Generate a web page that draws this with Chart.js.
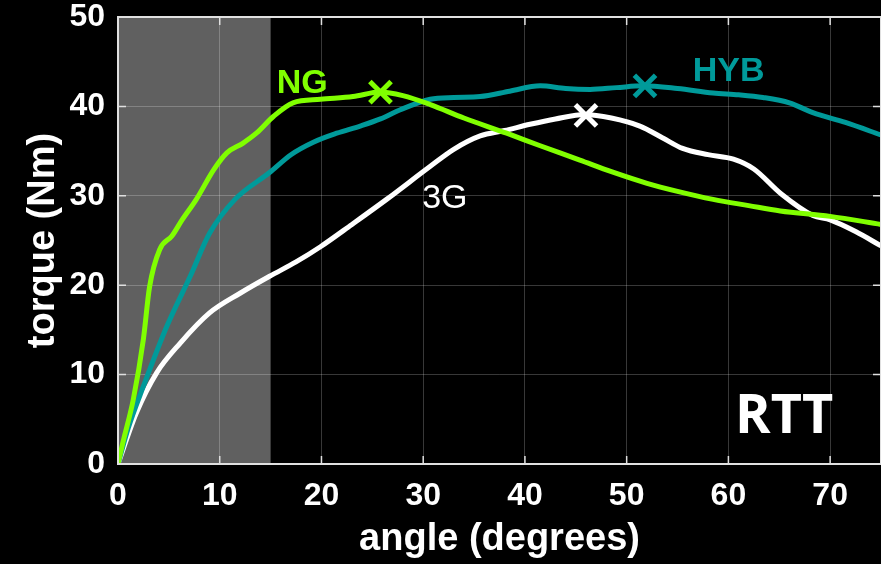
<!DOCTYPE html>
<html>
<head>
<meta charset="utf-8">
<script src="https://cdn.jsdelivr.net/npm/chart.js@4.4.0/dist/chart.umd.min.js"></script>
<style>
  html, body { margin: 0; padding: 0; background: #000; overflow: hidden; }
</style>
</head>
<body>
<canvas id="torqueChart" width="881" height="564"></canvas>
<script>
// NG curve
const ngAngle  = [0, 0.5, 1.5, 2.5, 3.1, 4.1, 5.3, 6.3, 7.7, 9.4, 10.7, 12.3, 13.6, 15.3, 17.2, 19.9, 23.1, 25.8, 28, 30.7, 34, 38.2, 41.5, 45.4, 48.5, 52, 55, 58.5, 62, 65.1, 70, 75];
const ngTorque = [0, 2.5, 7.2, 14, 19.8, 24, 25.5, 27.3, 29.6, 32.9, 34.8, 35.9, 37, 38.9, 40.4, 40.8, 41.1, 41.6, 41.2, 40.2, 38.7, 37.0, 35.6, 34.0, 32.7, 31.4, 30.5, 29.6, 28.9, 28.3, 27.7, 26.8];

// HYB curve
const hybAngle  = [0, 1, 2.5, 4.8, 7.1, 9, 11.5, 14.9, 17, 19.2, 21.5, 23.8, 25.8, 27.7, 30.7, 33, 35.6, 38.5, 41.5, 44, 46.4, 49, 51.6, 55, 58.5, 61, 63.4, 66, 68.3, 71.5, 75];
const hybTorque = [0, 4, 8.7, 15.4, 21, 25.8, 29.6, 32.6, 34.6, 36.0, 37.0, 37.8, 38.6, 39.6, 40.8, 41.0, 41.1, 41.7, 42.3, 42.0, 41.9, 42.1, 42.3, 42.0, 41.5, 41.3, 41.0, 40.4, 39.3, 38.2, 36.8];

// 3G curve
const g3Angle  = [0, 1.8, 3.8, 6.1, 9, 12, 14.9, 17.5, 19.9, 23, 26.4, 30.7, 33, 35.6, 38, 40.5, 43, 45.9, 48.5, 51.3, 53.5, 55.5, 58, 60.5, 62.5, 65.2, 68.3, 70, 72.5, 75];
const g3Torque = [0, 5.7, 10.2, 13.5, 16.9, 19.1, 21, 22.6, 24.3, 26.8, 29.6, 33.3, 35.2, 36.7, 37.3, 38.0, 38.6, 39.1, 38.7, 37.8, 36.5, 35.3, 34.6, 34.1, 33.0, 30.2, 27.8, 27.3, 26.0, 24.4];

// peak markers (NG, HYB, 3G)
const peakAngle  = [25.8, 51.8, 46.0];
const peakTorque = [41.6, 42.3, 39.0];

const seriesNames  = ["NG", "HYB", "3G"];
const seriesColors = ["#80ff00", "#009a9a", "#ffffff"];

const xTicks = [0, 10, 20, 30, 40, 50, 60, 70];
const shadeTo = 15;   // grey band 0..15 degrees

const axisColor = "#e0e0e0";
const fontFamily = "'Liberation Sans', Arial, sans-serif";

const zip = (xs, ys) => xs.map((x, i) => ({ x, y: ys[i] }));

function lineSet(i, xs, ys) {
  return {
    label: seriesNames[i],
    data: zip(xs, ys),
    borderColor: seriesColors[i],
    borderWidth: 5,
    pointRadius: 0,
    fill: false,
    cubicInterpolationMode: "monotone"
  };
}

function peakSet(i) {
  return {
    label: seriesNames[i] + " peak",
    data: [{ x: peakAngle[i], y: peakTorque[i] }],
    showLine: false,
    pointStyle: "crossRot",
    pointRadius: 15,
    pointBorderWidth: 5,
    pointBorderColor: seriesColors[i],
    pointBackgroundColor: seriesColors[i]
  };
}

// curve names placed in data coordinates: [angle, torque, bold]
const nameSpots = [[15.6, 41.5, true], [56.5, 42.8, true], [29.9, 28.6, false]];

const decor = {
  id: "decor",
  beforeDraw(chart) {
    const { ctx, chartArea: a, scales: { x } } = chart;
    ctx.save();
    ctx.fillStyle = "#000";
    ctx.fillRect(0, 0, chart.width, chart.height);
    ctx.fillStyle = "#606060";
    ctx.fillRect(a.left, a.top, x.getPixelForValue(shadeTo) - a.left, a.bottom - a.top);
    ctx.restore();
  },
  afterDraw(chart) {
    const { ctx, chartArea: a, scales: { x, y } } = chart;
    ctx.save();
    // box
    ctx.strokeStyle = axisColor;
    ctx.lineWidth = 2;
    ctx.strokeRect(a.left, a.top, a.right - a.left, a.bottom - a.top);
    // inward ticks
    ctx.lineWidth = 1.5;
    ctx.beginPath();
    x.ticks.forEach(t => {
      const px = x.getPixelForValue(t.value);
      ctx.moveTo(px, a.bottom); ctx.lineTo(px, a.bottom - 8);
      ctx.moveTo(px, a.top);    ctx.lineTo(px, a.top + 8);
    });
    y.ticks.forEach(t => {
      const py = y.getPixelForValue(t.value);
      ctx.moveTo(a.left, py);  ctx.lineTo(a.left + 8, py);
      ctx.moveTo(a.right, py); ctx.lineTo(a.right - 8, py);
    });
    ctx.stroke();

    // curve names
    ctx.textBaseline = "alphabetic";
    ctx.textAlign = "left";
    nameSpots.forEach(([ax, ty, bold], i) => {
      ctx.fillStyle = seriesColors[i];
      ctx.font = (bold ? "bold " : "") + "34px " + fontFamily;
      ctx.fillText(seriesNames[i], x.getPixelForValue(ax), y.getPixelForValue(ty));
    });

    // panel tag
    ctx.fillStyle = "#fff";
    ctx.textAlign = "right";
    ctx.font = "bold 54px 'Open Sans', sans-serif";
    ctx.fillText("RTT", x.getPixelForValue(70.3), y.getPixelForValue(3.5));
    ctx.restore();
  }
};

new Chart(document.getElementById("torqueChart"), {
  type: "line",
  data: {
    datasets: [
      lineSet(0, ngAngle, ngTorque),
      lineSet(1, hybAngle, hybTorque),
      lineSet(2, g3Angle, g3Torque),
      peakSet(0), peakSet(1), peakSet(2)
    ]
  },
  options: {
    responsive: false,
    animation: false,
    devicePixelRatio: 1,
    layout: { autoPadding: false, padding: { top: 17, right: 0, left: 0, bottom: 0 } },
    plugins: { legend: { display: false }, tooltip: { enabled: false } },
    scales: {
      x: {
        type: "linear",
        min: 0,
        max: 75,
        afterBuildTicks: s => { s.ticks = xTicks.map(v => ({ value: v })); },
        afterFit: s => { s.height = 100; s.paddingLeft = 0; s.paddingRight = 0; },
        ticks: {
          color: "#fff",
          padding: 16,
          font: { family: fontFamily, size: 32, weight: "bold", lineHeight: 1 }
        },
        grid: { color: "rgba(255,255,255,0.22)", lineWidth: 1, drawTicks: false },
        border: { display: false },
        title: {
          display: true,
          text: "angle (degrees)",
          color: "#fff",
          font: { family: fontFamily, size: 38, weight: "bold", lineHeight: 1.2 },
          padding: { top: 0, bottom: 2 }
        }
      },
      y: {
        min: 0,
        max: 50,
        ticks: {
          stepSize: 10,
          color: "#fff",
          padding: 13,
          font: { family: fontFamily, size: 32, weight: "bold", lineHeight: 1 }
        },
        afterFit: s => { s.width = 118; s.paddingTop = 0; s.paddingBottom = 0; },
        grid: { color: "rgba(255,255,255,0.22)", lineWidth: 1, drawTicks: false },
        border: { display: false },
        title: {
          display: true,
          text: "torque (Nm)",
          color: "#fff",
          font: { family: fontFamily, size: 38, weight: "bold", lineHeight: 1.2 },
          padding: { top: 21, bottom: 0 }
        }
      }
    }
  },
  plugins: [decor]
});
</script>
</body>
</html>
